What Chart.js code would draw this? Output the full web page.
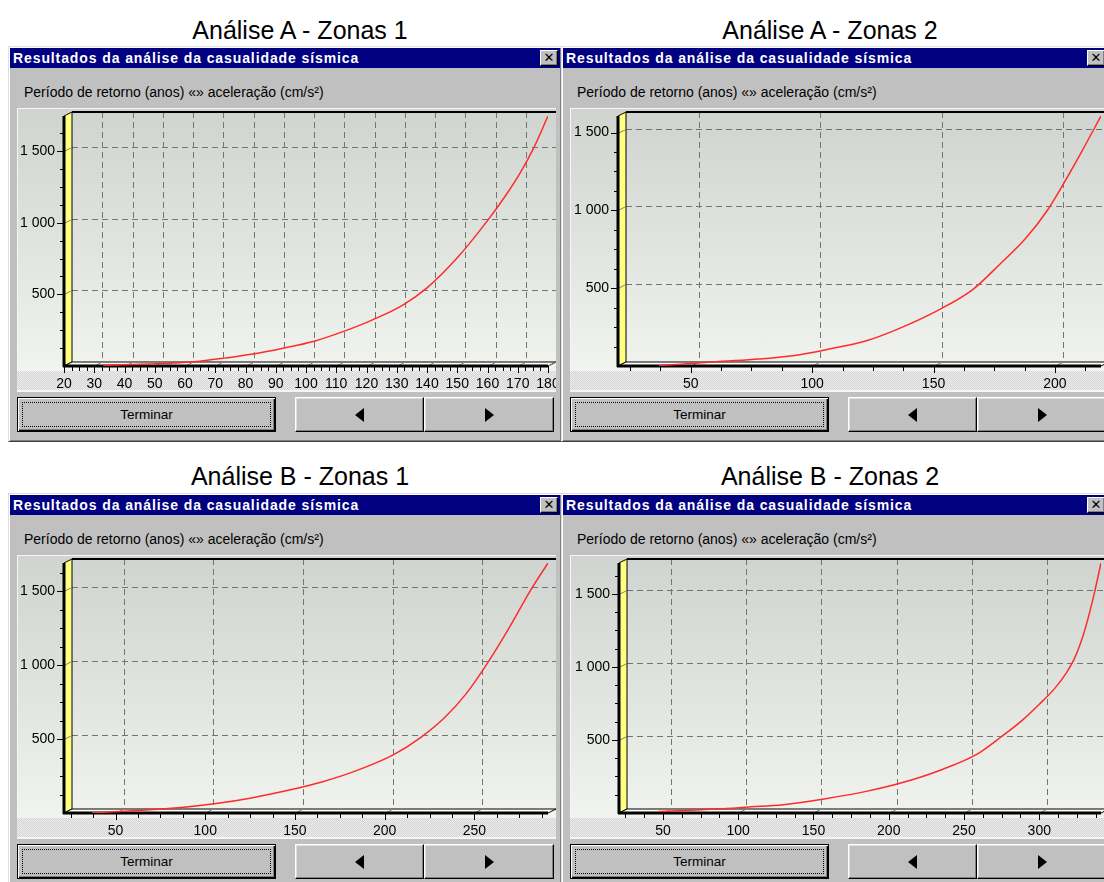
<!DOCTYPE html>
<html><head><meta charset="utf-8">
<script src="https://cdn.jsdelivr.net/npm/chart.js@4.4.1/dist/chart.umd.min.js"></script>
<style>
body{margin:0;width:1104px;height:882px;overflow:hidden;background:#fff;position:relative;font-family:"Liberation Sans",Arial,sans-serif}
.cap{position:absolute;width:400px;text-align:center;font-size:25px;line-height:26px;color:#000}
.dlg{position:absolute;box-sizing:border-box;height:396px;background:#c0c0c0;border:1px solid;border-color:#dfdfdf #404040 #404040 #dfdfdf;box-shadow:inset 1px 1px #fff,inset -1px -1px #808080}
.bar{position:absolute;left:1px;right:1px;top:1px;height:20px;background:#000080;color:#fff;font-weight:bold;font-size:14px;line-height:20px;letter-spacing:.9px;padding-left:3px;white-space:nowrap}
.cls{position:absolute;right:2px;top:2px;width:18px;height:16px;box-sizing:border-box;background:#c0c0c0;border:1px solid;border-color:#fff #000 #000 #fff;box-shadow:inset -1px -1px #808080;color:#000;font:bold 13px/14px "DejaVu Sans",sans-serif;text-align:center;letter-spacing:0}
.sub{position:absolute;left:15px;top:38px;font-size:14px;line-height:14px;color:#000;white-space:nowrap}
.plot{position:absolute;left:8px;top:61px;width:539px;height:284px;background:linear-gradient(#d0d4d0,#dfe3de 45%,#f3f6f1);box-shadow:inset 1px 1px #f6f6f6}
.stip{position:absolute;left:0;right:0;top:263px;height:19px;background:repeating-conic-gradient(#d4d4d4 0 25%,#ededed 0 50%) 0 0/2px 2px}
.plot canvas{position:absolute;left:0;top:0}
.btn{position:absolute;top:350px;height:35px;box-sizing:border-box;background:#c0c0c0;border:1px solid;border-color:#fff #000 #000 #fff;box-shadow:inset -1px -1px #808080,inset 1px 1px #dfdfdf;display:flex;align-items:center;justify-content:center;font-size:13.5px;color:#000}
.def{border:1px solid #000;box-shadow:inset 1px 1px #fff,inset -1px -1px #000,inset -2px -2px #808080}
.def::after{content:"";position:absolute;left:4px;top:4px;right:4px;bottom:4px;border:1px dotted #000}
.tl{width:0;height:0;border-top:7px solid transparent;border-bottom:7px solid transparent;border-right:9px solid #000}
.tr{width:0;height:0;border-top:7px solid transparent;border-bottom:7px solid transparent;border-left:9px solid #000}
</style></head>
<body>
<script>
// Análise A - Zonas 1
const a1X=[33,45,55,63,73,83,92,103,112,122,132,140,150,160,166,171,175,180];
const a1Y=[5,12,20,30,55,85,122,175,238,322,425,545,755,1015,1190,1355,1510,1745];
const a1XTicks=[20,30,40,50,60,70,80,90,100,110,120,130,140,150,160,170,180];
const a1XRange=[20,180], a1YMax=1745, a1XMinor=2.5;
// Análise A - Zonas 2
const a2X=[37,63,78,95,108,122,135,153,166,177,188,197,204,211,219];
const a2Y=[3,30,45,73,112,160,235,367,489,649,820,1002,1183,1376,1606];
const a2XTicks=[50,100,150,200];
const a2XRange=[20,219], a2YMax=1606, a2XMinor=12.5;
// Análise B - Zonas 1
const b1X=[37,65,85,105,125,145,165,185,205,220,233,245,258,270,281,291];
const b1Y=[2,18,35,62,100,150,210,290,395,510,640,800,1027,1265,1500,1690];
const b1XTicks=[50,100,150,200,250];
const b1XRange=[21.3,291], b1YMax=1690, b1XMinor=12.5;
// Análise B - Zonas 2
const b2X=[47,86,107,130,158,185,208,236,259,275,289,300,310,318,323,327,331,336,341];
const b2Y=[11,27,41,57,98,148,205,300,405,524,638,745,850,960,1050,1150,1280,1480,1712];
const b2XTicks=[50,100,150,200,250,300];
const b2XRange=[20.8,341], b2YMax=1712, b2XMinor=12.5;

const yTicks=[500,1000,1500], yMinor=125;
const TITLE='Resultados da análise da casualidade sísmica';
const SUB='Período de retorno (anos) «» aceleração (cm/s²)';

function fmt(v){return String(v).replace(/\B(?=(\d{3})+(?!\d))/g,' ');}

function dialog(id,cap,cx,cy,left,top,w){
  return `<div class="cap" style="left:${cx-200}px;top:${cy-13}px">${cap}</div>
  <div class="dlg" style="left:${left}px;top:${top}px;width:${w}px">
    <div class="bar">${TITLE}<div class="cls">✕</div></div>
    <div class="sub">${SUB}</div>
    <div class="plot"><div class="stip"></div><canvas id="${id}" width="539" height="284"></canvas></div>
    <div class="btn def" style="left:8px;width:259px">Terminar</div>
    <div class="btn" style="left:286px;width:129px"><i class="tl"></i></div>
    <div class="btn" style="left:415px;width:130px"><i class="tr"></i></div>
  </div>`;
}
document.body.insertAdjacentHTML('beforeend',
  dialog('ca1','Análise A - Zonas 1',300,30,8,46,554)+
  dialog('ca2','Análise A - Zonas 2',830,30,561,46,548)+
  dialog('cb1','Análise B - Zonas 1',300,476,8,493,554)+
  dialog('cb2','Análise B - Zonas 2',830,476,561,493,548));

// fundo 3D estilo TeeChart: parede amarela, chão, grelha tracejada na parede do fundo
const frame3d={
  id:'frame3d',
  beforeDatasetsDraw(chart,_a,o){
    const {ctx,chartArea:a,scales:{x,y}}=chart;
    const dx=8,dy=-4,L=a.left,R=a.right,T=a.top,B=a.bottom;
    const seg=(x1,y1,x2,y2)=>{ctx.beginPath();ctx.moveTo(x1,y1);ctx.lineTo(x2,y2);ctx.stroke();};
    const poly=(p,f)=>{ctx.beginPath();p.forEach((q,i)=>i?ctx.lineTo(q[0],q[1]):ctx.moveTo(q[0],q[1]));ctx.closePath();ctx.fillStyle=f;ctx.fill();ctx.stroke();};
    const xp=v=>Math.round(x.getPixelForValue(v))+.5, yp=v=>Math.round(y.getPixelForValue(v))+.5;
    ctx.save();
    ctx.strokeStyle='#747474';ctx.lineWidth=1;ctx.setLineDash([6,4]);
    x.ticks.forEach(t=>{if(t.value<=x.min||t.value>=x.max)return;const p=xp(t.value)+dx;seg(p,T+dy,p,B+dy);});
    y.ticks.forEach(t=>{if(t.value<=0||t.value>=y.max)return;const p=yp(t.value)+dy;seg(L+dx,p,R+dx,p);});
    ctx.setLineDash([]);
    ctx.strokeStyle='#000';
    poly([[L,T],[L+dx,T+dy],[L+dx,B+dy],[L,B]],'#ffff80');
    poly([[L,B],[L+dx,B+dy],[R+dx,B+dy],[R,B]],'#ffffff');
    seg(R+dx+.5,T+dy,R+dx+.5,B+dy);
    ctx.lineWidth=2;seg(L+dx,T+dy,R+dx+1,T+dy);
    ctx.lineWidth=1;ctx.strokeStyle='#808080';
    y.ticks.forEach(t=>{const p=yp(t.value);seg(L,p,L+dx,p+dy);});
    x.ticks.forEach(t=>{if(t.value<=x.min)return;const p=xp(t.value);seg(p,B,p+dx,B+dy);});
    ctx.strokeStyle='#000';ctx.lineWidth=3;
    seg(L,T,L,B+1);seg(L-1,B,R,B);
    ctx.lineWidth=1;
    x.ticks.forEach(t=>{const p=xp(t.value);seg(p,B,p,B+7);});
    for(let v=Math.ceil(x.min/o.xMinor)*o.xMinor;v<=x.max;v+=o.xMinor){const p=xp(v);seg(p,B,p,B+5);}
    y.ticks.forEach(t=>{const p=yp(t.value);seg(L-7,p,L,p);});
    for(let v=yMinor;v<y.max;v+=yMinor){const p=yp(v);seg(L-4,p,L,p);}
    ctx.restore();
  }
};

function makeChart(id,xs,ys,xTicks,xRange,yMax,xMinor,yAxisW){
  const tickFont={family:'Liberation Sans',size:14};
  return new Chart(document.getElementById(id),{
    type:'line',
    data:{datasets:[{data:xs.map((v,i)=>({x:v,y:ys[i]})),borderColor:'#ff2b2b',borderWidth:1.5,pointRadius:0,fill:false,cubicInterpolationMode:'monotone'}]},
    options:{
      responsive:false,animation:false,devicePixelRatio:1,
      layout:{padding:{top:8,right:8,left:0,bottom:0}},
      plugins:{legend:{display:false},tooltip:{enabled:false},frame3d:{xMinor}},
      scales:{
        x:{type:'linear',min:xRange[0],max:xRange[1],grid:{display:false,drawTicks:false},border:{display:false},
          afterBuildTicks:s=>{s.ticks=xTicks.map(v=>({value:v}));},
          afterFit:s=>{s.height=26;s.paddingLeft=0;s.paddingRight=0;},
          ticks:{autoSkip:false,maxRotation:0,padding:10,color:'#000',font:tickFont,callback:v=>fmt(v)}},
        y:{type:'linear',min:0,max:yMax,grid:{display:false,drawTicks:false},border:{display:false},
          afterBuildTicks:s=>{s.ticks=yTicks.map(v=>({value:v}));},
          afterFit:s=>{s.width=yAxisW;s.paddingTop=0;s.paddingBottom=0;},
          ticks:{padding:9,color:'#000',font:tickFont,callback:v=>fmt(v)}}
      }
    },
    plugins:[frame3d]
  });
}
makeChart('ca1',a1X,a1Y,a1XTicks,a1XRange,a1YMax,a1XMinor,47);
makeChart('ca2',a2X,a2Y,a2XTicks,a2XRange,a2YMax,a2XMinor,48);
makeChart('cb1',b1X,b1Y,b1XTicks,b1XRange,b1YMax,b1XMinor,47);
makeChart('cb2',b2X,b2Y,b2XTicks,b2XRange,b2YMax,b2XMinor,49);
</script>
</body></html>
